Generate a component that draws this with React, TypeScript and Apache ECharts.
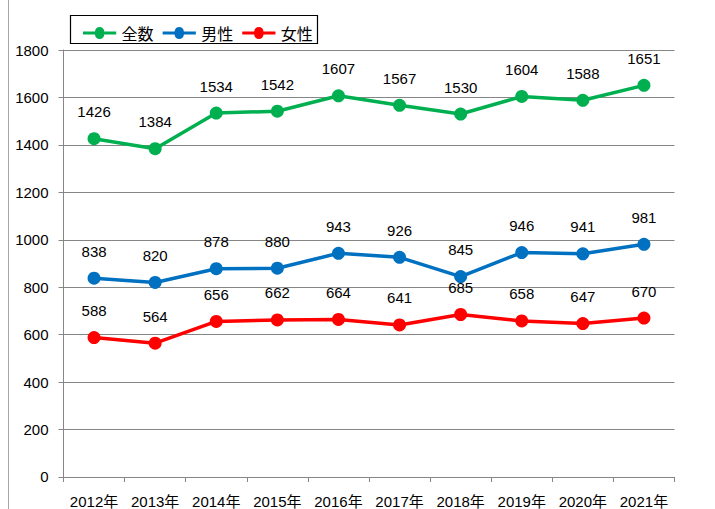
import React, { useEffect, useRef } from "react";
import * as echarts from "echarts";

const categories = ["2012年", "2013年", "2014年", "2015年", "2016年", "2017年", "2018年", "2019年", "2020年", "2021年"];
const total = [1426, 1384, 1534, 1542, 1607, 1567, 1530, 1604, 1588, 1651];
const male = [838, 820, 878, 880, 943, 926, 845, 946, 941, 981];
const female = [588, 564, 656, 662, 664, 641, 685, 658, 647, 670];
const seriesNames = ["全数", "男性", "女性"];
const colors = ["#00B050", "#0070C0", "#FF0000"];

const FONT = "'Liberation Sans', 'Noto Sans CJK JP', sans-serif";

export default function App() {
  const ref = useRef<HTMLDivElement>(null);
  useEffect(() => {
    const chart = echarts.init(ref.current!, null, { renderer: "svg" });
    const mk = (name: string, data: number[], color: string) => ({
      name,
      type: "line",
      data,
      symbol: "circle",
      symbolSize: 13,
      lineStyle: { width: 3.5, color },
      itemStyle: { color },
      label: {
        show: true,
        position: "top",
        distance: 13,
        color: "#000",
        fontSize: 15,
        fontFamily: FONT,
      },
    });
    chart.setOption({
      animation: false,
      backgroundColor: "#fff",
      textStyle: { fontFamily: FONT },
      graphic: [
        {
          type: "line",
          shape: { x1: 8.5, y1: 0, x2: 8.5, y2: 509 },
          style: { stroke: "#a6a6a6", lineWidth: 1 },
        },
        {
          type: "rect",
          shape: { x: 70.5, y: 15.5, width: 247, height: 28 },
          style: { fill: "#fff", stroke: "#000", lineWidth: 1.2 },
          z: 0,
        },
      ],
      legend: {
        left: 78,
        top: 20,
        itemGap: 9,
        itemWidth: 36,
        itemHeight: 12,
        icon: "path://M0,5 L13,5 A5,5 0 0 1 23,5 L36,5 L36,8 L23,8 A5,5 0 0 1 13,8 L0,8 Z",
        data: seriesNames,
        textStyle: { fontSize: 16, color: "#000", fontFamily: "'Noto Sans CJK JP', sans-serif", padding: [0, 0, 0, -1] },
        z: 10,
      },
      grid: { left: 63.5, right: 40.5, top: 50, bottom: 29.5 },
      xAxis: {
        type: "category",
        data: categories,
        boundaryGap: true,
        axisLine: { lineStyle: { color: "#868686", width: 1 } },
        axisTick: { show: true, length: 5, lineStyle: { color: "#868686" } },
        axisLabel: { color: "#000", fontSize: 15, margin: 17, interval: 0, fontFamily: FONT },
      },
      yAxis: {
        type: "value",
        min: 0,
        max: 1800,
        interval: 200,
        axisLine: { show: true, lineStyle: { color: "#868686", width: 1 } },
        axisTick: { show: true, length: 5, lineStyle: { color: "#868686" } },
        splitLine: { lineStyle: { color: "#868686", width: 1 } },
        axisLabel: { color: "#000", fontSize: 15, margin: 15, fontFamily: FONT, formatter: (v: number) => String(v) },
      },
      series: [
        mk(seriesNames[0], total, colors[0]),
        mk(seriesNames[1], male, colors[1]),
        mk(seriesNames[2], female, colors[2]),
      ],
    });
    return () => chart.dispose();
  }, []);
  return <div ref={ref} style={{ width: 715, height: 509, position: "absolute", left: 0, top: 0 }} />;
}
